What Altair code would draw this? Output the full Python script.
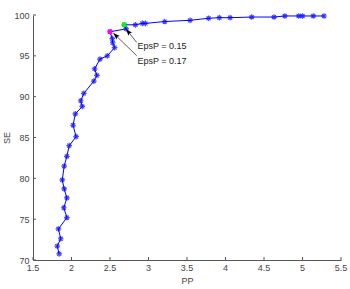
import altair as alt
import pandas as pd
import numpy as np

# Curve data (PP, SE)
pp = [1.84, 1.815, 1.86, 1.83, 1.94, 1.90, 1.94, 1.905, 1.88, 1.905, 1.94, 1.97,
      2.06, 2.02, 2.05, 2.14, 2.12, 2.16, 2.29, 2.33, 2.30, 2.37, 2.465, 2.56,
      2.535, 2.53, 2.50, 2.71, 2.685, 2.83, 2.92, 2.96, 3.21, 3.54, 3.78, 3.92,
      4.06, 4.34, 4.63, 4.77, 4.95, 5.00, 5.14, 5.28]
se = [70.75, 71.7, 72.6, 73.8, 75.2, 76.4, 77.6, 78.7, 79.8, 81.5, 82.7, 84.0,
      85.1, 86.5, 87.9, 88.8, 89.5, 90.4, 91.9, 92.6, 93.4, 94.6, 95.0, 96.0,
      96.6, 97.1, 97.95, 98.3, 98.8, 98.8, 98.97, 98.97, 99.2, 99.35, 99.6, 99.67,
      99.67, 99.75, 99.75, 99.88, 99.88, 99.88, 99.88, 99.88]

# Highlighted points
hl_pp = [2.50, 2.685]
hl_se = [97.95, 98.8]
hl_col = ["#ff00ff", "#00ff00"]

# Annotations
ann_text = ["EpsP = 0.15", "EpsP = 0.17"]
ann_tx = [2.857, 2.857]
ann_ty = [96.15, 94.4]
arr_x1 = [2.847, 2.847]
arr_y1 = [96.64, 95.01]
arr_x2 = [2.708, 2.543]
arr_y2 = [98.28, 97.79]

x_ticks = [1.5, 2.0, 2.5, 3.0, 3.5, 4.0, 4.5, 5.0, 5.5]
x_labels = ["1.5", "2", "2.5", "3", "3.5", "4", "4.5", "5", "5.5"]
y_ticks = [70, 75, 80, 85, 90, 95, 100]

W, H = 308, 245
XMIN, XMAX, YMIN, YMAX = 1.5, 5.5, 70, 100

df = pd.DataFrame({"PP": pp, "SE": se, "i": range(len(pp))})
hl = pd.DataFrame({"PP": hl_pp, "SE": hl_se, "c": hl_col})
ann = pd.DataFrame({"t": ann_text, "x": ann_tx, "y": ann_ty})
arr = pd.DataFrame({"x1": arr_x1, "y1": arr_y1, "x2": arr_x2, "y2": arr_y2})
sx = W / (XMAX - XMIN)
sy = H / (YMAX - YMIN)
dxp = (arr["x2"] - arr["x1"]) * sx
dyp = -(arr["y2"] - arr["y1"]) * sy
arr["ang"] = (np.degrees(np.arctan2(dxp, -dyp)) % 360)

xs = alt.Scale(domain=[XMIN, XMAX], nice=False, zero=False)
ys = alt.Scale(domain=[YMIN, YMAX], nice=False, zero=False)

base = alt.Chart(df)

line = base.mark_line(color="#0000ff", strokeWidth=1).encode(
    x=alt.X("PP:Q", scale=xs, axis=alt.Axis(values=x_ticks, title="PP", labels=False,
                                          titlePadding=16)),
    y=alt.Y("SE:Q", scale=ys, axis=alt.Axis(values=y_ticks, title="SE", labelPadding=4,
                                          titlePadding=2)),
    order="i:Q",
)

star = "M-1,0L1,0M0,-1L0,1M-0.7,-0.7L0.7,0.7M-0.7,0.7L0.7,-0.7"
pts = base.mark_point(shape=star, color="#0000ff", filled=False, size=32, strokeWidth=1.2).encode(
    x=alt.X("PP:Q", scale=xs), y=alt.Y("SE:Q", scale=ys)
)

hlp = alt.Chart(hl).mark_point(shape="square", filled=True, size=20, opacity=1).encode(
    x=alt.X("PP:Q", scale=xs), y=alt.Y("SE:Q", scale=ys),
    color=alt.Color("c:N", scale=None),
)

rules = alt.Chart(arr).mark_rule(color="#333333", strokeWidth=0.8).encode(
    x=alt.X("x1:Q", scale=xs), y=alt.Y("y1:Q", scale=ys),
    x2="x2:Q", y2="y2:Q",
)

heads = alt.Chart(arr).mark_point(shape="M0,0L0.35,1L0,0.8L-0.35,1Z", filled=True,
                                  color="black", size=180, opacity=1).encode(
    x=alt.X("x2:Q", scale=xs), y=alt.Y("y2:Q", scale=ys),
    angle=alt.Angle("ang:Q", scale=None),
)

texts = alt.Chart(ann).mark_text(align="left", baseline="middle", font="Liberation Sans",
                                 fontSize=9, color="#222222").encode(
    x=alt.X("x:Q", scale=xs), y=alt.Y("y:Q", scale=ys), text="t:N"
)

xt = pd.DataFrame({"v": x_ticks, "lab": x_labels})
yt = pd.DataFrame({"v": y_ticks})
xtick = alt.Chart(xt).mark_rule(color="#555555").encode(
    x=alt.X("v:Q", scale=xs), y=alt.value(H), y2=alt.value(H - 3)
)
xlab = alt.Chart(xt).mark_text(baseline="top", font="Liberation Sans", fontSize=9,
                               color="#444444").encode(
    x=alt.X("v:Q", scale=xs), y=alt.value(H + 4), text="lab:N"
)
ytick = alt.Chart(yt).mark_rule(color="#555555").encode(
    y=alt.Y("v:Q", scale=ys), x=alt.value(0), x2=alt.value(3)
)

chart = alt.layer(line, pts, hlp, rules, heads, texts, xtick, xlab, ytick).properties(
    width=W, height=H,
    autosize=alt.AutoSizeParams(type="none"),
    padding={"left": 33, "top": 15, "right": 9, "bottom": 29},
    background="white",
).configure_view(stroke=None).configure_axis(
    labelFont="Liberation Sans", labelFontSize=9, labelColor="#444444",
    titleFont="Liberation Sans", titleFontSize=9, titleColor="#444444", titleFontWeight="normal",
    domainColor="#555555", ticks=False, grid=False, labelOverlap=False, labelFlush=False,
)

chart.save("out.html", embed_options={"renderer": "svg", "actions": False})
